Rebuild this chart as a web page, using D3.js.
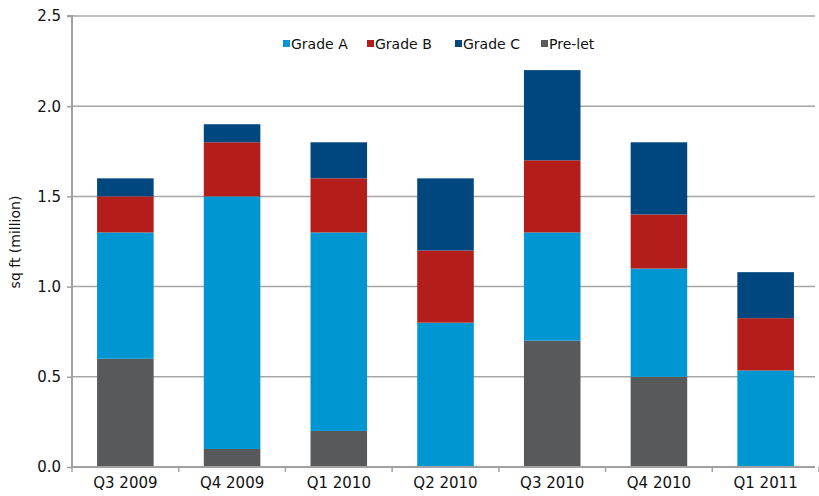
<!DOCTYPE html>
<html><head><meta charset="utf-8">
<script src="https://cdn.jsdelivr.net/npm/d3@7"></script>
<style>body{margin:0;background:#fff}svg{display:block}text{font-family:"DejaVu Sans",sans-serif;fill:#111}</style>
</head><body><svg id="c" width="819" height="496"></svg>
<script>
const categories = ["Q3 2009","Q4 2009","Q1 2010","Q2 2010","Q3 2010","Q4 2010","Q1 2011"];
const preLet = [0.6, 0.1, 0.2, 0.0, 0.7, 0.5, 0.0];
const gradeA = [0.7, 1.4, 1.1, 0.8, 0.6, 0.6, 0.535];
const gradeB = [0.2, 0.3, 0.3, 0.4, 0.4, 0.3, 0.29];
const gradeC = [0.1, 0.1, 0.2, 0.4, 0.5, 0.4, 0.255];
const yTicks = [0, 0.5, 1.0, 1.5, 2.0, 2.5];
const seriesNames = ["Pre-let","Grade A","Grade B","Grade C"];
const seriesColors = {"Pre-let":"#58595b","Grade A":"#0096d2","Grade B":"#b41e1a","Grade C":"#00467f"};
const legendOrder = ["Grade A","Grade B","Grade C","Pre-let"];

const svg = d3.select("#c");
const m = {left:72, top:16, right:819, bottom:467};
const x = d3.scaleBand().domain(categories).range([m.left, m.right]).paddingInner(0.47).paddingOuter(0.235);
const y = d3.scaleLinear().domain([0,2.5]).range([m.bottom, m.top]);

// gridlines
svg.append("g").selectAll("line").data(yTicks.filter(d=>d>0)).join("line")
  .attr("x1", m.left).attr("x2", 815).attr("y1", d=>y(d)).attr("y2", d=>y(d))
  .attr("stroke","#a6a6a6").attr("stroke-width",1.5);

const table = categories.map((c,i)=>({cat:c,"Pre-let":preLet[i],"Grade A":gradeA[i],"Grade B":gradeB[i],"Grade C":gradeC[i]}));
const stack = d3.stack().keys(seriesNames)(table);
svg.append("g").selectAll("g").data(stack).join("g").attr("fill", d=>seriesColors[d.key])
  .selectAll("rect").data(d=>d).join("rect")
  .attr("x", d=>x(d.data.cat)).attr("width", x.bandwidth())
  .attr("y", d=>y(d[1])).attr("height", d=>Math.max(0, y(d[0])-y(d[1])));

// y axis
const ya = svg.append("g").attr("transform",`translate(${m.left},0)`)
  .call(d3.axisLeft(y).tickValues(yTicks).tickFormat(d3.format(".1f")).tickSize(5).tickPadding(6));
ya.select(".domain").attr("stroke","#a0a0a0").attr("stroke-width",2).attr("d",`M-5,${m.top}H0V${m.bottom}`);
ya.selectAll(".tick line").attr("stroke","#a0a0a0").attr("stroke-width",1.5);
ya.selectAll("text").attr("font-size",15).attr("fill","#111");

// x axis
const bandStep = x.step();
const xa = svg.append("g").attr("transform",`translate(0,${m.bottom})`)
  .call(d3.axisBottom(x).tickSize(0).tickPadding(10));
xa.select(".domain").attr("stroke","#a0a0a0").attr("stroke-width",2).attr("d",`M${m.left},0H815`);
xa.selectAll("text").attr("font-size",15).attr("fill","#111");
svg.append("g").selectAll("line").data(d3.range(categories.length+1)).join("line")
  .attr("x1", i=>m.left + i*bandStep).attr("x2", i=>m.left + i*bandStep)
  .attr("y1", m.bottom).attr("y2", m.bottom+5).attr("stroke","#a0a0a0").attr("stroke-width",1.5);

// y label
svg.append("text").attr("transform","translate(20,242) rotate(-90)").attr("text-anchor","middle")
  .attr("font-size",14).text("sq ft (million)");

// legend
const lx = [283, 367, 455, 541];
const lg = svg.append("g").selectAll("g").data(legendOrder).join("g")
  .attr("transform",(d,i)=>`translate(${lx[i]},44)`);
lg.append("rect").attr("x",0).attr("y",-4).attr("width",7).attr("height",7).attr("fill",d=>seriesColors[d]);
lg.append("text").attr("x",8).attr("y",5).attr("font-size",14).text(d=>d);
</script></body></html>
